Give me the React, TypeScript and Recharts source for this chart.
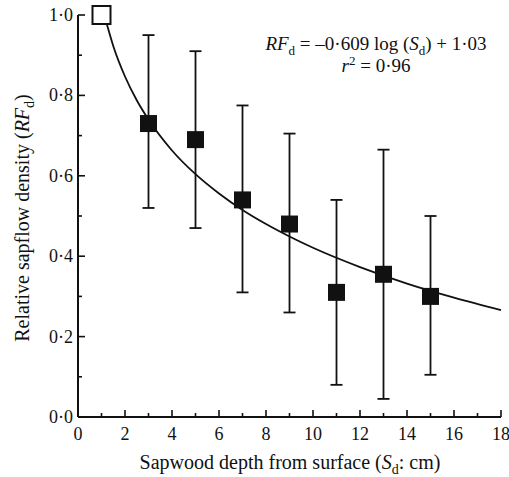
import { ComposedChart, XAxis, YAxis, Scatter, Line, ErrorBar } from "recharts";

// measured points (depth in cm, relative sapflow density)
const DEPTHS = [3, 5, 7, 9, 11, 13, 15];
const MEANS = [0.73, 0.69, 0.54, 0.48, 0.31, 0.355, 0.3];
const LOWS = [0.52, 0.47, 0.31, 0.26, 0.08, 0.045, 0.105];
const HIGHS = [0.95, 0.91, 0.775, 0.705, 0.54, 0.665, 0.5];

// reference point at the surface (open square)
const SURFACE_X = [1];
const SURFACE_Y = [1.0];

// fitted curve
const CURVE_X = [1.12, 1.5, 2, 2.5, 3, 4, 5, 6, 7, 8, 9, 10, 12, 14, 16, 18];
const CURVE_Y = [1.0, 0.923, 0.847, 0.788, 0.74, 0.663, 0.604, 0.556, 0.515, 0.48, 0.449, 0.421, 0.373, 0.332, 0.297, 0.266];

const X_TICKS = [0, 1, 2, 3, 4, 5, 6, 7, 8, 9, 10, 11, 12, 13, 14, 15, 16, 17, 18];
const Y_TICKS = [0, 0.1, 0.2, 0.3, 0.4, 0.5, 0.6, 0.7, 0.8, 0.9, 1.0];

const points = DEPTHS.map((d, i) => ({
  x: d,
  y: MEANS[i],
  err: [MEANS[i] - LOWS[i], HIGHS[i] - MEANS[i]],
}));
const surface = SURFACE_X.map((x, i) => ({ x, y: SURFACE_Y[i] }));
const curve = CURVE_X.map((x, i) => ({ x, fit: CURVE_Y[i] }));

const FONT = "Liberation Serif, Times New Roman, Tinos, DejaVu Serif, Noto Serif, Times, serif";
const INK = "#111";

const fmt = (v: number) => v.toFixed(1).replace(".", "·");
const isMajorX = (v: number) => Math.round(v) % 2 === 0;
const isMajorY = (v: number) => Math.round(v * 10) % 2 === 0;

const BottomTick = ({ x, y, payload }: any) => {
  const v = payload.value;
  const major = isMajorX(v);
  return (
    <g>
      <line x1={x} x2={x} y1={y} y2={y - (major ? 7 : 4)} stroke={INK} strokeWidth={1.6} />
      {major && (
        <text x={x} y={y + 23} textAnchor="middle" style={{ fontFamily: FONT }} fontSize={18} fill={INK}>
          {v}
        </text>
      )}
    </g>
  );
};

const TopTick = ({ x, y, payload }: any) => {
  const major = isMajorX(payload.value);
  return <line x1={x} x2={x} y1={y} y2={y + (major ? 7 : 4)} stroke={INK} strokeWidth={1.6} />;
};

const LeftTick = ({ x, y, payload }: any) => {
  const v = payload.value;
  const major = isMajorY(v);
  return (
    <g>
      <line x1={x} x2={x + (major ? 7 : 4)} y1={y} y2={y} stroke={INK} strokeWidth={1.6} />
      {major && (
        <text x={x - 5} y={y + 6} textAnchor="end" style={{ fontFamily: FONT }} fontSize={18} fill={INK}>
          {fmt(v)}
        </text>
      )}
    </g>
  );
};

const RightTick = ({ x, y, payload }: any) => {
  const major = isMajorY(payload.value);
  return <line x1={x} x2={x - (major ? 7 : 4)} y1={y} y2={y} stroke={INK} strokeWidth={1.6} />;
};

const FilledSquare = ({ cx, cy }: any) => (
  <rect x={cx - 8.5} y={cy - 8.5} width={17} height={17} fill={INK} />
);

const OpenSquare = ({ cx, cy }: any) => (
  <rect x={cx - 9} y={cy - 9} width={18} height={18} fill="#fff" stroke={INK} strokeWidth={2} />
);

const small = (size: number) => ({ fontSize: size, lineHeight: 0 });

export default function App() {
  return (
    <div style={{ position: "absolute", left: 0, top: 0, width: 509, height: 477, background: "#fff", fontFamily: FONT, color: INK }}>
      <ComposedChart width={509} height={477} margin={{ top: 15, right: 8, bottom: 0, left: 0 }}>
        <XAxis
          xAxisId="b"
          dataKey="x"
          type="number"
          domain={[0, 18]}
          ticks={X_TICKS}
          interval={0}
          height={60}
          tickSize={0}
          tickMargin={0}
          tickLine={false}
          axisLine={{ stroke: INK, strokeWidth: 2 }}
          tick={(p: any) => <BottomTick {...p} />}
        />
        <XAxis
          xAxisId="t"
          orientation="top"
          dataKey="x"
          type="number"
          domain={[0, 18]}
          ticks={X_TICKS}
          interval={0}
          height={0}
          tickSize={0}
          tickMargin={0}
          tickLine={false}
          axisLine={{ stroke: INK, strokeWidth: 2 }}
          tick={(p: any) => <TopTick {...p} />}
        />
        <YAxis
          yAxisId="l"
          type="number"
          domain={[0, 1]}
          ticks={Y_TICKS}
          interval={0}
          width={78}
          tickSize={0}
          tickMargin={0}
          tickLine={false}
          axisLine={{ stroke: INK, strokeWidth: 2 }}
          tick={(p: any) => <LeftTick {...p} />}
        />
        <YAxis
          yAxisId="r"
          orientation="right"
          type="number"
          domain={[0, 1]}
          ticks={Y_TICKS}
          interval={0}
          width={0}
          tickSize={0}
          tickMargin={0}
          tickLine={false}
          axisLine={{ stroke: INK, strokeWidth: 2 }}
          tick={(p: any) => <RightTick {...p} />}
        />
        <Line
          xAxisId="b"
          yAxisId="l"
          data={curve}
          dataKey="fit"
          type="monotone"
          stroke={INK}
          strokeWidth={1.8}
          dot={false}
          activeDot={false}
          isAnimationActive={false}
        />
        <Scatter
          xAxisId="b"
          yAxisId="l"
          data={points}
          dataKey="y"
          shape={(p: any) => <FilledSquare {...p} />}
          isAnimationActive={false}
        >
          <ErrorBar dataKey="err" direction="y" width={6} stroke={INK} strokeWidth={1.8} isAnimationActive={false} />
        </Scatter>
        <Scatter
          xAxisId="b"
          yAxisId="l"
          data={surface}
          dataKey="y"
          shape={(p: any) => <OpenSquare {...p} />}
          isAnimationActive={false}
        />
      </ComposedChart>

      <div style={{ position: "absolute", left: 376, top: 33, transform: "translateX(-50%)", whiteSpace: "nowrap", fontSize: 19, lineHeight: "22px", textAlign: "center" }}>
        <div>
          <i>RF</i>
          <sub style={small(13)}>d</sub> = –0·609 log (<i>S</i>
          <sub style={small(13)}>d</sub>) + 1·03
        </div>
        <div>
          <i>r</i>
          <sup style={small(13)}>2</sup> = 0·96
        </div>
      </div>

      <div style={{ position: "absolute", left: 290, top: 451, transform: "translateX(-50%)", whiteSpace: "nowrap", fontSize: 20 }}>
        Sapwood depth from surface (<i>S</i>
        <sub style={small(14)}>d</sub>: cm)
      </div>

      <div style={{ position: "absolute", left: 22, top: 218, transform: "translate(-50%, -50%) rotate(-90deg)", whiteSpace: "nowrap", fontSize: 20 }}>
        Relative sapflow density (<i>RF</i>
        <sub style={small(14)}>d</sub>)
      </div>
    </div>
  );
}
